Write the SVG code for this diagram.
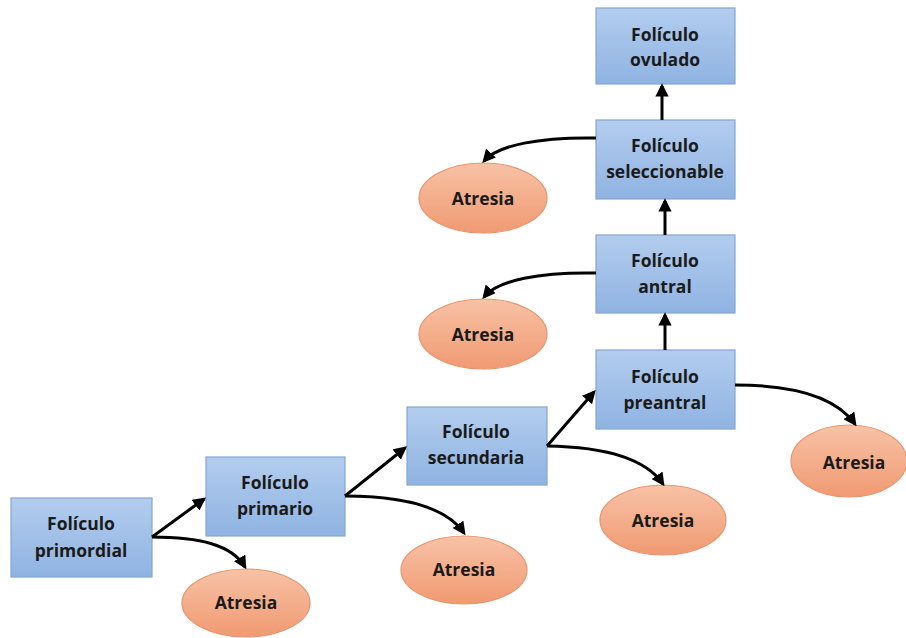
<svg xmlns="http://www.w3.org/2000/svg" width="906" height="638" viewBox="0 0 906 638">
<defs>
<linearGradient id="gb" x1="0" y1="0" x2="0" y2="1">
<stop offset="0" stop-color="#b3cdee"/>
<stop offset="1" stop-color="#8fb3e2"/>
</linearGradient>
<linearGradient id="go" x1="0" y1="0" x2="0" y2="1">
<stop offset="0" stop-color="#f8c2a6"/>
<stop offset="1" stop-color="#f09a72"/>
</linearGradient>
<marker id="ah" viewBox="0 0 10 10" refX="8" refY="5" markerWidth="4.4" markerHeight="4.4" orient="auto" markerUnits="strokeWidth">
<path d="M0,0 L10,5 L0,10 z" fill="#000"/>
</marker>
<style>
.box{fill:url(#gb);stroke:#86a6d0;stroke-width:1.2}
.ell{fill:url(#go);stroke:#e8956f;stroke-width:1.2}
.t{font-family:"Open Sans","Liberation Sans",sans-serif;font-weight:bold;font-size:17.5px;fill:#1a1a1a;text-anchor:middle}
.c{fill:none;stroke:#000;stroke-width:3;marker-end:url(#ah)}
</style>
</defs>
<g id="primordial"><rect class="box" x="11" y="498" width="141" height="79"/><text class="t" x="81" y="530">Folículo</text><text class="t" x="81" y="557">primordial</text></g>
<g id="primario"><rect class="box" x="206" y="457" width="139" height="79"/><text class="t" x="275" y="489">Folículo</text><text class="t" x="275" y="515">primario</text></g>
<g id="secundaria"><rect class="box" x="407" y="407" width="140" height="78"/><text class="t" x="476" y="438">Folículo</text><text class="t" x="476" y="464">secundaria</text></g>
<g id="preantral"><rect class="box" x="596" y="350" width="139" height="79"/><text class="t" x="665" y="383">Folículo</text><text class="t" x="665" y="409">preantral</text></g>
<g id="antral"><rect class="box" x="596" y="235" width="139" height="78"/><text class="t" x="665" y="267">Folículo</text><text class="t" x="665" y="293">antral</text></g>
<g id="seleccionable"><rect class="box" x="596" y="120" width="139" height="79"/><text class="t" x="665" y="152">Folículo</text><text class="t" x="665" y="178">seleccionable</text></g>
<g id="ovulado"><rect class="box" x="596" y="8" width="139" height="76"/><text class="t" x="665" y="41">Folículo</text><text class="t" x="665" y="66">ovulado</text></g>
<g id="atresia1"><ellipse class="ell" cx="246" cy="603" rx="64" ry="34"/><text class="t" x="246" y="609">Atresia</text></g>
<g id="atresia2"><ellipse class="ell" cx="464" cy="570" rx="63" ry="34"/><text class="t" x="464" y="576">Atresia</text></g>
<g id="atresia3"><ellipse class="ell" cx="663" cy="520" rx="63" ry="35"/><text class="t" x="663" y="527">Atresia</text></g>
<g id="atresia4"><ellipse class="ell" cx="849" cy="461" rx="58" ry="36"/><text class="t" x="854" y="469">Atresia</text></g>
<g id="atresia5"><ellipse class="ell" cx="483" cy="334" rx="64" ry="35"/><text class="t" x="483" y="341">Atresia</text></g>
<g id="atresia6"><ellipse class="ell" cx="483" cy="198" rx="64" ry="35"/><text class="t" x="483" y="205">Atresia</text></g>
<g id="connectors">
<path class="c" d="M152,537 L204,499"/>
<path class="c" d="M152,537 C200,537 232,545 245,567"/>
<path class="c" d="M345,496 L405,448"/>
<path class="c" d="M345,496 C410,496 448,510 464,533"/>
<path class="c" d="M547,446 L594,392"/>
<path class="c" d="M547,446 C612,447 648,462 663,484"/>
<path class="c" d="M735,385 C800,385 838,400 855,424"/>
<path class="c" d="M665,350 L665,315"/>
<path class="c" d="M665,235 L665,201"/>
<path class="c" d="M662,120 L662,86"/>
<path class="c" d="M596,273 C540,272 498,280 484,297"/>
<path class="c" d="M596,138 C540,137 498,145 484,161"/>
</g>
</svg>
